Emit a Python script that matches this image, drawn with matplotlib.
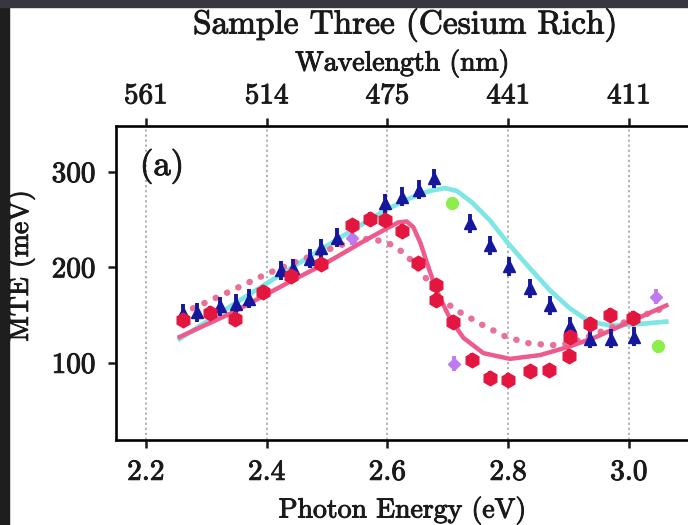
import numpy as np
import matplotlib.pyplot as plt
import matplotlib.patheffects as pe
from matplotlib.patches import Rectangle

plt.rcParams['font.family'] = 'serif'
plt.rcParams['font.serif'] = ['cmr10', 'DejaVu Serif']
plt.rcParams['mathtext.fontset'] = 'cm'
plt.rcParams['axes.formatter.use_mathtext'] = True

# measured points (photon energy in eV, MTE in meV)
blue_e = [2.262, 2.284, 2.323, 2.350, 2.371, 2.423, 2.443, 2.472, 2.490, 2.516,
          2.596, 2.624, 2.653, 2.677, 2.737, 2.770, 2.802, 2.836, 2.870, 2.902,
          2.935, 2.970, 3.008]
blue_mte = [152, 153, 159, 162, 167, 197, 199, 209, 220, 231,
            267, 274, 281, 293, 246, 223, 201, 178, 160, 138,
            125, 125, 127]

red_e = [2.262, 2.306, 2.347, 2.394, 2.441, 2.490, 2.541, 2.571, 2.596, 2.624,
         2.651, 2.680, 2.681, 2.709, 2.740, 2.770, 2.800, 2.836, 2.868, 2.901,
         2.902, 2.935, 2.969, 3.007]
red_mte = [145, 152, 146, 174, 191, 203, 244, 251, 250, 238,
           204, 181, 166, 143, 103, 84, 82, 91, 92, 107,
           127, 141, 150, 147]

green_e = [2.707, 3.049]
green_mte = [267, 117]
purple_e = [2.542, 2.710, 3.045]
purple_mte = [231, 99, 169]

# model curves
cyan_e = [2.256, 2.35, 2.45, 2.55, 2.60, 2.64, 2.67, 2.695, 2.715, 2.74, 2.77,
          2.80, 2.836, 2.869, 2.902, 2.935, 2.969, 3.007, 3.062]
cyan_mte = [125, 163, 203, 242, 261, 273, 280, 283, 280, 268, 249,
            225, 199, 176, 157, 143, 139, 140, 143]

pink_e = [2.256, 2.345, 2.433, 2.50, 2.56, 2.60, 2.618, 2.632, 2.643, 2.655,
          2.668, 2.681, 2.704, 2.726, 2.759, 2.803, 2.853, 2.902, 2.946,
          3.002, 3.062]
pink_mte = [127, 153, 183, 205, 227, 241, 247, 248, 242, 225,
            200, 176, 146, 126, 110, 104, 108, 117, 127,
            143, 160]

dot_e = [2.278, 2.33, 2.40, 2.45, 2.50, 2.54, 2.57, 2.60, 2.63, 2.66, 2.687,
         2.720, 2.759, 2.797, 2.836, 2.886, 2.919, 2.96, 3.007, 3.057]
dot_mte = [157, 172, 193, 206, 218, 227, 230, 226, 214, 192, 167,
           153, 139, 127, 120, 118, 124, 134, 146, 157]

energy_ticks = [2.2, 2.4, 2.6, 2.8, 3.0]
wavelength_labels = ['561', '514', '475', '441', '411']

fig = plt.figure(figsize=(6.88, 5.25), dpi=100)
ax = fig.add_axes([115.7 / 688, 85 / 525, 0.95 * 603.75 / 688, 314 / 525])

ax.plot(cyan_e, cyan_mte, color='#7fe6e6', lw=3.4, zorder=2)
ax.plot(dot_e, dot_mte, color='#e8709a', lw=4.6, ls=(0, (0.05, 1.9)),
        dash_capstyle='round', zorder=2)
ax.plot(pink_e, pink_mte, color='#ef5a8c', lw=3.2, zorder=2)

ax.errorbar(blue_e, blue_mte, yerr=10, fmt='^', ms=9, color='#15179c',
            elinewidth=2.8, capsize=0, zorder=3)
ax.errorbar(red_e, red_mte, yerr=7, fmt='h', ms=10.5, color='#e3163f',
            elinewidth=3, capsize=0, zorder=4)
ax.errorbar(green_e, green_mte, yerr=7, fmt='o', ms=8.5, color='#8cee4a',
            elinewidth=2.8, capsize=0, zorder=4)
ax.errorbar(purple_e, purple_mte, yerr=8, fmt='D', ms=6.5, color='#c07af0',
            elinewidth=2.8, capsize=0, zorder=3)

ax.set_xlim(2.15, 3.1)
ax.set_ylim(19, 348)
ax.set_xticks(energy_ticks)
ax.set_xticklabels([f'{v:.1f}' for v in energy_ticks])
ax.set_yticks([100, 200, 300])
ax.grid(axis='x', color='#aaaaaa', ls=(0, (1.2, 1.6)), lw=1.3)
ax.tick_params(direction='out', length=6, width=1.8, labelsize=21, pad=8,
               colors='#1a1a1a')
for s in ax.spines.values():
    s.set_linewidth(2)
    s.set_color('#1a1a1a')
ax.set_xlabel('Photon Energy (eV)', fontsize=20, labelpad=7)
ax.set_ylabel('MTE (meV)', fontsize=20)
ax.yaxis.set_label_coords(-0.141, 0.555)
ax.text(2.19, 306, '(a)', fontsize=25, va='center', ha='left')

ax2 = ax.twiny()
ax2.set_xlim(ax.get_xlim())
ax2.set_xticks(energy_ticks)
ax2.set_xticklabels(wavelength_labels)
ax2.tick_params(direction='out', length=6, width=1.8, labelsize=21, pad=6,
                colors='#1a1a1a')
ax2.set_xlabel('Wavelength (nm)', fontsize=20, labelpad=9)

fig.text(405 / 688, 1 - 25 / 525, 'Sample Three (Cesium Rich)', fontsize=24,
         ha='center', va='center')

# slightly heavier text, like the blurred photo of the slide
for t in fig.findobj(plt.Text):
    t.set_color('#1a1a1a')
    t.set_path_effects([pe.withStroke(linewidth=0.7, foreground='#1a1a1a')])

# dark photo edges
fig.patches.append(Rectangle((0, 0), 9 / 688, 1, transform=fig.transFigure,
                             color='#1e1e1e', zorder=10))
fig.patches.append(Rectangle((0, 1 - 7 / 525), 1, 7 / 525, transform=fig.transFigure,
                             color='#3a3640', zorder=10))

fig.savefig('out.png', dpi=100)
